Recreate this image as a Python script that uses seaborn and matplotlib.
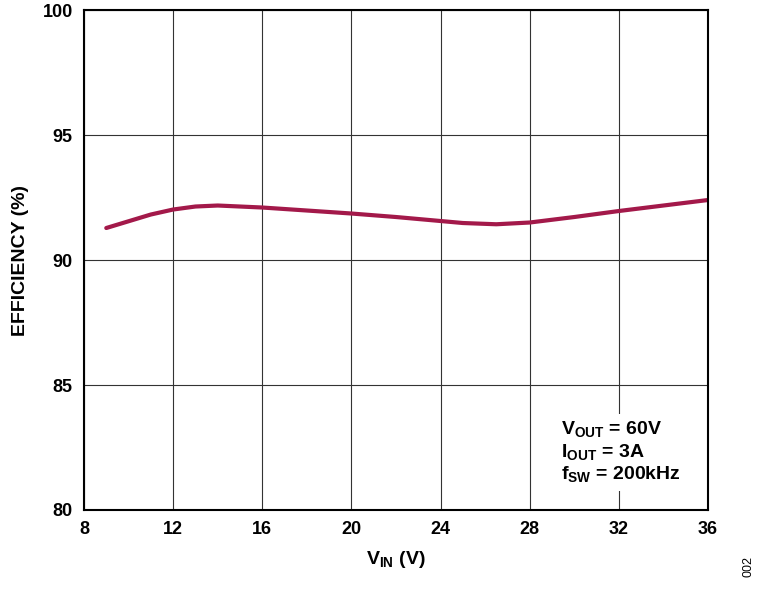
import numpy as np
import pandas as pd
import seaborn as sns
import matplotlib
matplotlib.use('Agg')
import matplotlib.pyplot as plt

vin = [9, 10, 11, 12, 13, 14, 16, 18, 20, 22, 24, 25, 26.5, 28, 30, 32, 34, 36]
eff = [91.28, 91.55, 91.82, 92.02, 92.14, 92.18, 92.1, 91.98, 91.86, 91.72, 91.56, 91.48, 91.43, 91.5, 91.72, 91.96, 92.18, 92.4]

sns.set_style('white')
plt.rcParams['font.family'] = ['Liberation Sans', 'DejaVu Sans']
plt.rcParams['mathtext.fontset'] = 'custom'
plt.rcParams['mathtext.rm'] = 'Liberation Sans:bold'
plt.rcParams['mathtext.bf'] = 'Liberation Sans:bold'
plt.rcParams['text.color'] = 'black'
plt.rcParams['axes.labelcolor'] = 'black'
plt.rcParams['xtick.color'] = 'black'
plt.rcParams['ytick.color'] = 'black'

fig = plt.figure(figsize=(7.6, 5.9), dpi=100)
ax = fig.add_axes([0.1105, 0.1356, 0.8211, 0.8474])
df = pd.DataFrame({'vin': vin, 'eff': eff})
sns.lineplot(data=df, x='vin', y='eff', ax=ax, color='#A3194A', linewidth=3)

ax.set_xlim(8, 36)
ax.set_ylim(80, 100)
ax.set_xticks(range(8, 37, 4))
ax.set_yticks(range(80, 101, 5))
ax.grid(True, color='#333333', linewidth=0.8)
for s in ax.spines.values():
    s.set_color('black')
    s.set_linewidth(1.5)
ax.tick_params(labelsize=13, length=0, pad=8)
for lab in ax.get_xticklabels() + ax.get_yticklabels():
    lab.set_fontweight('bold')
ax.set_xlabel(r'V$_{\mathrm{IN}}$ (V)', fontsize=14, fontweight='bold', labelpad=8)
ax.set_ylabel('EFFICIENCY (%)', fontsize=14, fontweight='bold', labelpad=10)

ax.text(0.765, 0.115, 'V$_{\\mathrm{OUT}}$ = 60V\nI$_{\\mathrm{OUT}}$ = 3A\nf$_{\\mathrm{SW}}$ = 200kHz',
        transform=ax.transAxes, fontsize=14, fontweight='bold', va='center', ha='left',
        linespacing=1.15, bbox=dict(facecolor='white', edgecolor='none', pad=4))
fig.text(0.985, 0.04, '002', rotation=90, fontsize=9, ha='center', va='center')

plt.savefig('out.png', dpi=100)
